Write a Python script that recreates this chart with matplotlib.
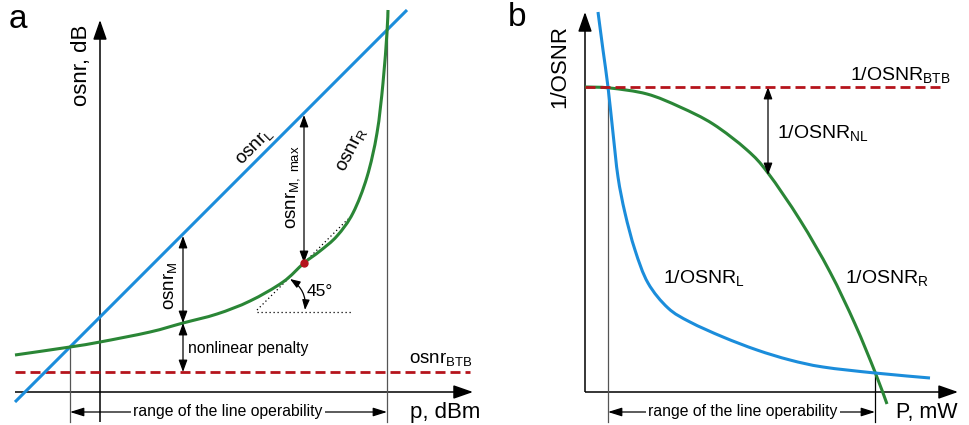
import matplotlib
matplotlib.use("Agg")
import matplotlib.pyplot as plt
from matplotlib.path import Path
from matplotlib.patches import PathPatch

plt.rcParams['font.family'] = ['Liberation Sans', 'DejaVu Sans']
plt.rcParams['mathtext.fontset'] = 'custom'
plt.rcParams['mathtext.rm'] = 'Liberation Sans'
plt.rcParams['mathtext.it'] = 'Liberation Sans:italic'

# ---------------- panel a data (p in dBm-like units, osnr in dB-like units) ----------
p_L = [-8.5, 30.7]
osnr_L = [-1.0, 38.2]
p_R = [-8.5, -3.0, 0.0, 5.0, 8.3, 11.7, 15.0, 18.3, 20.4, 22.0, 23.7, 25.3, 26.7, 27.7, 28.3, 28.7, 28.8]
osnr_R = [3.7, 4.5, 5.0, 6.0, 6.9, 7.8, 9.1, 11.0, 12.9, 14.1, 15.6, 17.9, 21.5, 25.9, 30.9, 36.0, 38.2]
osnr_BTB_a = 2.0
btb_a_range = [-8.5, 37.0]
range_a = [-3.0, 28.7]          # line operability limits
p_M = 8.3                       # osnr_M marker position
osnr_M_low, osnr_M_high = 6.9, 15.6
p_Mmax = 20.4
osnr_Mmax_low, osnr_Mmax_high = 12.9, 27.7
tangent_p = [15.7, 24.8]
tangent_osnr = [8.2, 17.3]
horiz_p = [15.7, 25.2]
horiz_osnr = [8.0, 8.0]

# ---------------- panel b data (P in mW-like units, 1/OSNR) ----------------
P_R = [0.0, 2.5, 6.2, 9.5, 12.8, 16.2, 18.3, 21.5, 24.5, 27.0, 29.0, 30.2]
inv_R = [30.5, 30.4, 29.8, 28.5, 26.8, 24.2, 21.9, 17.2, 12.0, 6.8, 2.0, -1.2]
P_L = [1.3, 1.8, 2.3, 2.8, 3.3, 4.0, 5.0, 6.3, 8.3, 10.5, 13.8, 17.2, 20.5, 23.8, 29.0, 34.5]
inv_L = [38.0, 34.2, 30.5, 25.9, 21.5, 17.9, 14.2, 10.9, 8.4, 7.0, 5.5, 4.2, 3.2, 2.5, 1.9, 1.4]
inv_BTB = 30.5
btb_b_range = [0.0, 36.0]
range_b = [2.3, 29.0]
P_NL = 18.3
inv_NL_low = 21.7

BLUE = '#1b8ddb'
GREEN = '#2a8636'
RED = '#b5141c'
GRAY = '#555555'

fig = plt.figure(figsize=(9.7, 4.25), dpi=100)
axa = fig.add_axes([0, 0, 0.5, 1])
axb = fig.add_axes([0.5, 0, 0.5, 1])
for ax in (axa, axb):
    ax.set_xlim(-10, 38.5)
    ax.set_ylim(-3.3, 39.2)
    ax.axis('off')


def smooth_curve(ax, xs, ys, color, lw=2.2):
    """Draw a smooth Catmull-Rom (Bezier) curve through the read points."""
    pts = list(zip(xs, ys))
    n = len(pts)
    verts = [pts[0]]
    codes = [Path.MOVETO]
    for i in range(n - 1):
        p0 = pts[i - 1] if i > 0 else pts[i]
        p1 = pts[i]
        p2 = pts[i + 1]
        p3 = pts[i + 2] if i + 2 < n else pts[i + 1]
        c1 = (p1[0] + (p2[0] - p0[0]) / 6.0, p1[1] + (p2[1] - p0[1]) / 6.0)
        c2 = (p2[0] - (p3[0] - p1[0]) / 6.0, p2[1] - (p3[1] - p1[1]) / 6.0)
        verts += [c1, c2, p2]
        codes += [Path.CURVE4] * 3
    patch = PathPatch(Path(verts, codes), facecolor='none', edgecolor=color, lw=lw,
                      capstyle='butt', joinstyle='round', zorder=3)
    ax.add_patch(patch)


def arrow(ax, start, end, style='<|-|>', hl=0.6, hw=0.22, ms=12, lw=0.9, rad=0.0, color='black'):
    ax.annotate('', xy=end, xytext=start,
                arrowprops=dict(arrowstyle=f'{style},head_length={hl},head_width={hw}',
                                color=color, lw=lw, shrinkA=0, shrinkB=0, mutation_scale=ms,
                                connectionstyle=f'arc3,rad={rad}'),
                annotation_clip=False)


def axes_lines(ax, x0, y0, xtip, ytip):
    ax.plot([x0, xtip - 0.5], [0, 0], color='black', lw=1.1, solid_capstyle='butt')
    arrow(ax, (xtip - 1.2, 0), (xtip, 0), style='-|>', hl=1.0, hw=0.35, ms=12, lw=1.1)
    ax.plot([0, 0], [y0, ytip - 0.5], color='black', lw=1.1, solid_capstyle='butt')
    arrow(ax, (0, ytip - 1.2), (0, ytip), style='-|>', hl=1.0, hw=0.35, ms=12, lw=1.1)


def range_arrow(ax, xl, xr, y, label, xc):
    arrow(ax, (xl, y), (xr, y), style='<|-|>', hl=0.7, hw=0.22, ms=12, lw=0.9)
    ax.text(xc, y + 0.05, label, ha='center', va='center', fontsize=11.3,
            bbox=dict(facecolor='white', edgecolor='none', pad=1.5))


# ================= panel a =================
axes_lines(axa, -8.5, -3.0, 37.3, 37.2)
axa.plot(horiz_p, horiz_osnr, color='black', lw=0.9, ls=(0, (1, 2.2)))
axa.plot(tangent_p, tangent_osnr, color='black', lw=0.9, ls=(0, (1, 2.2)))
axa.plot(btb_a_range, [osnr_BTB_a, osnr_BTB_a], color=RED, lw=2.0, dashes=(3.6, 1.8))
axa.plot([range_a[0], range_a[0]], [osnr_R[1], -3.0], color=GRAY, lw=0.9)
axa.plot([range_a[1], range_a[1]], [38.0, -3.0], color=GRAY, lw=0.9)
axa.plot(p_L, osnr_L, color=BLUE, lw=2.2, solid_capstyle='butt', zorder=3)
smooth_curve(axa, p_R, osnr_R, GREEN)
arrow(axa, (p_M, osnr_M_low), (p_M, osnr_M_high))
arrow(axa, (p_M, osnr_BTB_a), (p_M, osnr_M_low))
arrow(axa, (p_Mmax, osnr_Mmax_low), (p_Mmax, osnr_Mmax_high))
axa.plot([p_Mmax], [osnr_Mmax_low], 'o', color=RED, ms=5, zorder=5)
arrow(axa, (19.0, 11.3), (20.5, 8.2), style='<|-|>', hl=0.6, hw=0.22, ms=10, lw=0.9, rad=-0.3)
range_arrow(axa, range_a[0], range_a[1], -2.0, 'range of the line operability', 12.8)

axa.text(-8.2, 37.2, 'a', fontsize=24, ha='center', va='center')
axa.text(-1.8, 32.7, 'osnr, dB', fontsize=16, rotation=90, ha='center', va='center')
axa.text(31.0, -2.6, 'p, dBm', fontsize=16, ha='left', va='baseline')
axa.text(15.5, 24.5, r'osnr$_\mathrm{L}$', fontsize=13.5, rotation=45, ha='center', va='center',
         rotation_mode='anchor')
axa.text(25.2, 24.2, r'osnr$_\mathrm{R}$', fontsize=13.5, rotation=63, ha='center', va='center',
         rotation_mode='anchor')
axa.text(19.3, 20.5, r'osnr$_\mathrm{M,\ max}$', fontsize=13.5, rotation=90, ha='center', va='center',
         rotation_mode='anchor')
axa.text(7.0, 10.6, r'osnr$_\mathrm{M}$', fontsize=13.5, rotation=90, ha='center', va='center',
         rotation_mode='anchor')
axa.text(8.8, 3.9, 'nonlinear penalty', fontsize=11.3, ha='left', va='baseline')
axa.text(30.9, 2.9, r'osnr$_\mathrm{BTB}$', fontsize=13.5, ha='left', va='baseline')
axa.text(20.7, 9.6, '45°', fontsize=12.5, ha='left', va='baseline')

# ================= panel b =================
axes_lines(axb, 0.0, 0.0, 37.3, 38.0)
axb.plot(btb_b_range, [inv_BTB, inv_BTB], color=RED, lw=2.0, dashes=(3.6, 1.8), zorder=4)
axb.plot([range_b[0], range_b[0]], [inv_BTB, -3.0], color=GRAY, lw=0.9)
axb.plot([range_b[1], range_b[1]], [inv_L[-2], -3.0], color='black', lw=0.9)
smooth_curve(axb, P_R, inv_R, GREEN)
smooth_curve(axb, P_L, inv_L, BLUE)
arrow(axb, (P_NL, inv_BTB), (P_NL, inv_NL_low))
range_arrow(axb, range_b[0], range_b[1], -2.0, 'range of the line operability', 15.8)

axb.text(-6.8, 37.4, 'b', fontsize=24, ha='center', va='center')
axb.text(-2.5, 32.5, '1/OSNR', fontsize=16, rotation=90, ha='center', va='center')
axb.text(31.1, -2.6, 'P, mW', fontsize=15.5, ha='left', va='baseline')
axb.text(26.5, 31.2, r'1/OSNR$_\mathrm{BTB}$', fontsize=14, ha='left', va='baseline')
axb.text(19.2, 25.4, r'1/OSNR$_\mathrm{NL}$', fontsize=14, ha='left', va='baseline')
axb.text(7.8, 10.9, r'1/OSNR$_\mathrm{L}$', fontsize=14, ha='left', va='baseline')
axb.text(26.0, 10.9, r'1/OSNR$_\mathrm{R}$', fontsize=14, ha='left', va='baseline')

fig.savefig('out.png', dpi=100)
